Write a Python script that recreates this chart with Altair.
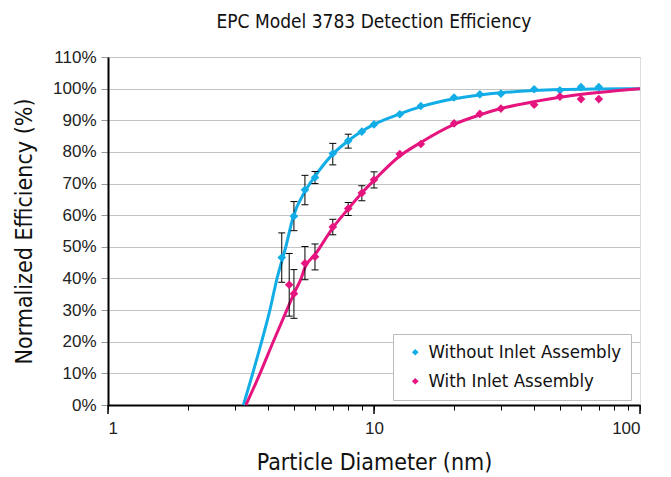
import altair as alt
import pandas as pd

# ---- measured data points ----
series_names = ["Without Inlet Assembly", "With Inlet Assembly"]
colors = ["#12ADE6", "#E5147F"]

blue_d = [4.5, 5, 5.5, 6, 7, 8, 9, 10, 12.5, 15, 20, 25, 30, 40, 50, 60, 70]
blue_eff = [46.6, 59.7, 68.0, 71.9, 79.5, 83.5, 86.4, 88.7, 91.9, 94.5, 97.2, 98.2, 98.4, 99.8, 99.5, 100.5, 100.5]

pink_d = [4.8, 5, 5.5, 6, 7, 8, 9, 10, 12.5, 15, 20, 25, 30, 40, 50, 60, 70]
pink_eff = [38.0, 35.2, 44.8, 46.9, 56.3, 62.1, 67.0, 71.2, 79.3, 82.5, 89.0, 92.0, 93.7, 94.9, 97.5, 96.7, 96.7]

# ---- error bars ----
blue_err_d = [4.5, 5, 5.5, 6, 7, 8]
blue_err_lo = [38.8, 55.1, 63.3, 70.0, 75.9, 81.2]
blue_err_hi = [54.4, 64.3, 72.6, 73.8, 82.7, 85.6]

pink_err_d = [4.8, 5, 5.5, 6, 7, 8, 9, 10]
pink_err_lo = [28.1, 27.4, 39.6, 42.7, 53.8, 59.9, 64.6, 68.6]
pink_err_hi = [47.9, 42.8, 50.1, 50.9, 58.7, 64.0, 69.3, 73.7]

# ---- fitted curves ----
blue_curve_d = [3.23, 3.5, 3.78, 4.06, 4.32, 4.66, 4.97, 5.5, 6, 7, 8, 9, 10, 12.5, 15, 20, 25, 30, 40, 50, 70, 100]
blue_curve_eff = [0, 10, 20, 30, 40, 50, 59.5, 67.5, 72.3, 79.3, 83.5, 86.5, 88.7, 92, 94.3, 96.8, 98, 98.7, 99.4, 99.7, 99.9, 100]

pink_curve_d = [3.30, 3.73, 4.18, 4.70, 5.05, 5.32, 5.5, 6, 7, 8, 9, 10, 12.5, 15, 20, 25, 30, 40, 50, 70, 100]
pink_curve_eff = [0, 10, 20, 30, 36, 40, 43.5, 47.5, 56, 62, 67, 71, 78.7, 83, 88.7, 91.7, 93.7, 95.9, 97.3, 98.8, 100]

x_ticks = [1, 2, 3, 4, 5, 6, 7, 8, 9, 10, 20, 30, 40, 50, 60, 70, 80, 90, 100]
x_major = [1, 10, 100]
y_ticks = list(range(0, 111, 10))

NARROW = "DejaVu Sans Condensed, Liberation Sans Narrow, sans-serif"
REG = "Liberation Sans, Arial, sans-serif"

points = pd.DataFrame({
    "d": blue_d + pink_d,
    "eff": blue_eff + pink_eff,
    "series": [series_names[0]] * len(blue_d) + [series_names[1]] * len(pink_d),
})
errs = pd.DataFrame({
    "d": blue_err_d + pink_err_d,
    "lo": blue_err_lo + pink_err_lo,
    "hi": blue_err_hi + pink_err_hi,
})
blue_curve = pd.DataFrame({"d": blue_curve_d, "eff": blue_curve_eff})
pink_curve = pd.DataFrame({"d": pink_curve_d, "eff": pink_curve_eff})
major_df = pd.DataFrame({"d": x_major})

xscale = alt.Scale(type="log", domain=[1, 100])
yscale = alt.Scale(domain=[0, 110], nice=False, zero=True)

xaxis = alt.Axis(
    values=x_ticks,
    labelExpr="(datum.value == 1 || datum.value == 10 || datum.value == 100) ? datum.label : ''",
    labelOverlap=False,
    title="Particle Diameter (nm)",
    grid=False,
    tickSize=5,
    tickColor="black",
    domainColor="black",
    domainWidth=2,
    labelFont=REG,
    labelFontSize=17,
    labelColor="#222",
    labelPadding=10,
    titleFont=NARROW,
    titleFontSize=23,
    titleFontWeight="normal",
    titleColor="#111",
    titlePadding=15,
)
yaxis = alt.Axis(
    values=y_ticks,
    tickCount=12,
    labelExpr="datum.value + '%'",
    labelOverlap=False,
    title="Normalized Efficiency (%)",
    grid=True,
    gridColor="#c4c4c4",
    gridWidth=1,
    tickSize=7,
    tickColor="#999",
    domainColor="black",
    domainWidth=2,
    labelFont=REG,
    labelFontSize=17,
    labelColor="#222",
    labelPadding=5,
    titleFont=NARROW,
    titleFontSize=23,
    titleFontWeight="normal",
    titleColor="#111",
    titlePadding=16,
)

X = alt.X("d:Q", scale=xscale, axis=xaxis)
Y = alt.Y("eff:Q", scale=yscale, axis=yaxis)

line_blue = alt.Chart(blue_curve).mark_line(color=colors[0], strokeWidth=3, interpolate="monotone").encode(x=X, y=Y)
line_pink = alt.Chart(pink_curve).mark_line(color=colors[1], strokeWidth=3, interpolate="monotone").encode(x=X, y=Y)

# longer major ticks below the x axis
major_ticks = alt.Chart(major_df).mark_rule(color="black", strokeWidth=1.5).encode(
    x=X, y=alt.value(348), y2=alt.value(357)
)

err_rule = alt.Chart(errs).mark_rule(color="black", strokeWidth=1).encode(
    x=X, y=alt.Y("lo:Q", scale=yscale, axis=yaxis), y2="hi:Q"
)
err_lo = alt.Chart(errs).mark_tick(color="black", orient="horizontal", size=7, thickness=1, opacity=1).encode(
    x=X, y=alt.Y("lo:Q", scale=yscale, axis=yaxis)
)
err_hi = alt.Chart(errs).mark_tick(color="black", orient="horizontal", size=7, thickness=1, opacity=1).encode(
    x=X, y=alt.Y("hi:Q", scale=yscale, axis=yaxis)
)

pts = alt.Chart(points).mark_point(shape="diamond", filled=True, size=75, opacity=1).encode(
    x=X,
    y=Y,
    color=alt.Color(
        "series:N",
        scale=alt.Scale(domain=series_names, range=colors),
        legend=alt.Legend(
            title=None,
            orient="none",
            legendX=285,
            legendY=277,
            symbolType="diamond",
            symbolSize=45,
            labelFont=NARROW,
            labelFontSize=18.5,
            labelLimit=0,
            labelColor="#111",
            strokeColor="#bbb",
            fillColor="white",
            padding=9,
            rowPadding=10,
            symbolOffset=4,
        ),
    ),
)

chart = alt.layer(line_blue, line_pink, major_ticks, err_rule, err_lo, err_hi, pts).properties(
    width=532,
    height=348,
    title=alt.TitleParams(
        "EPC Model 3783 Detection Efficiency",
        font=NARROW,
        fontSize=19,
        fontWeight="normal",
        color="#111",
        anchor="middle",
        offset=16,
    ),
).configure_view(stroke="#aaa", strokeWidth=1).configure(background="white")

chart.save("out.html", embed_options={"renderer": "svg", "actions": False})
